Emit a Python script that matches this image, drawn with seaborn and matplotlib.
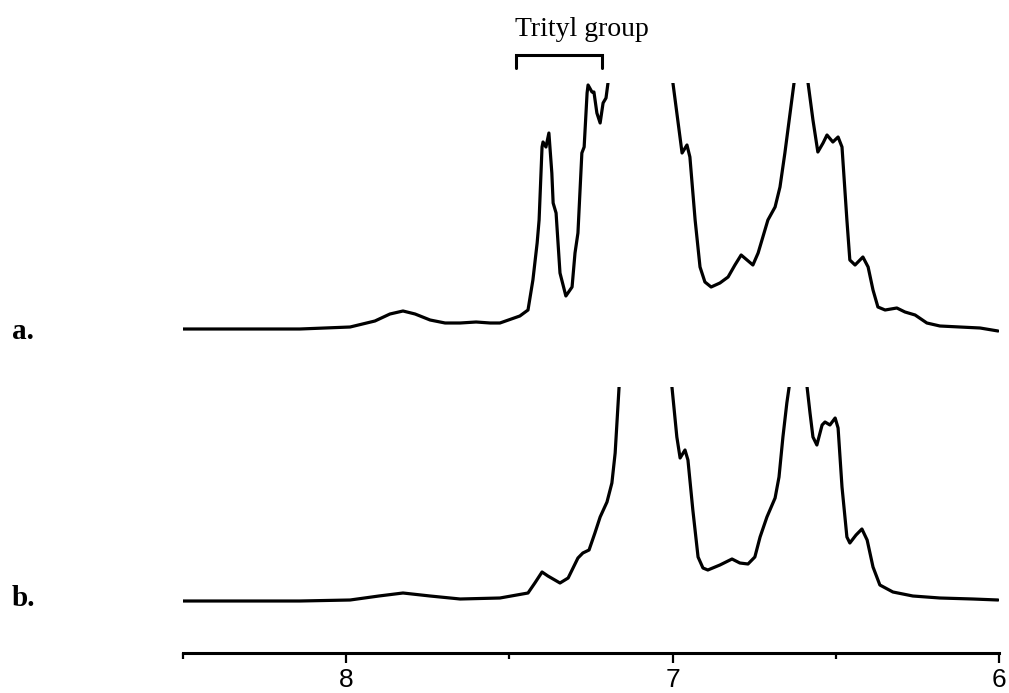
import matplotlib
matplotlib.use("Agg")
import matplotlib.pyplot as plt
import matplotlib.transforms as mtransforms
from matplotlib.ticker import FixedLocator
import seaborn as sns
import pandas as pd

# Chemical shift (ppm) and intensity of spectrum a
shift_a = [8.500, 8.142, 7.988, 7.912, 7.866, 7.826, 7.789, 7.743, 7.697, 7.651,
           7.602, 7.559, 7.529, 7.468, 7.443, 7.428, 7.415, 7.409, 7.400, 7.397,
           7.388, 7.379, 7.370, 7.366, 7.357, 7.345, 7.327, 7.308, 7.299, 7.290,
           7.278, 7.271, 7.262, 7.259, 7.247, 7.241, 7.232, 7.222, 7.213, 7.204,
           7.198, 7.190, 7.100, 7.010, 6.999, 6.971, 6.956, 6.947, 6.931, 6.916,
           6.901, 6.882, 6.855, 6.830, 6.809, 6.790, 6.772, 6.754, 6.738, 6.708,
           6.686, 6.671, 6.656, 6.640, 6.628, 6.620, 6.605, 6.592, 6.585, 6.570,
           6.555, 6.539, 6.527, 6.509, 6.493, 6.481, 6.466, 6.457, 6.441, 6.417,
           6.401, 6.386, 6.371, 6.349, 6.313, 6.288, 6.257, 6.221, 6.181, 6.120,
           6.058, 6.003]
inten_a = [0, 0, 2, 8, 15, 18, 15, 9, 6, 6,
           7, 6, 6, 13, 19, 49, 86, 109, 182, 187,
           182, 196, 156, 126, 116, 56, 33, 42, 76, 96,
           176, 182, 236, 244, 237, 237, 216, 206, 226, 231,
           246, 290, 500, 280, 246, 176, 184, 172, 109, 62,
           47, 42, 46, 52, 64, 74, 69, 64, 76, 109,
           122, 142, 176, 216, 246, 280, 450, 280, 246, 209,
           177, 186, 194, 187, 192, 182, 109, 69, 64, 72,
           62, 39, 22, 19, 21, 17, 14, 6, 3, 2,
           1, -2]

# Chemical shift (ppm) and intensity of spectrum b
shift_b = [8.500, 8.142, 7.988, 7.900, 7.826, 7.743, 7.651, 7.529, 7.443, 7.422,
           7.400, 7.382, 7.345, 7.320, 7.290, 7.275, 7.256, 7.238, 7.222, 7.201,
           7.186, 7.176, 7.170, 7.164, 7.155, 7.090, 7.010, 7.002, 6.987, 6.977,
           6.962, 6.953, 6.938, 6.922, 6.907, 6.892, 6.855, 6.818, 6.794, 6.769,
           6.748, 6.732, 6.711, 6.686, 6.674, 6.662, 6.650, 6.643, 6.635, 6.610,
           6.592, 6.588, 6.579, 6.570, 6.558, 6.542, 6.533, 6.518, 6.502, 6.493,
           6.481, 6.466, 6.457, 6.438, 6.420, 6.404, 6.386, 6.365, 6.325, 6.264,
           6.181, 6.080, 6.003]
inten_b = [0, 0, 1, 5, 8, 5, 2, 3, 8, 18,
           29, 25, 18, 23, 43, 48, 51, 68, 84, 99,
           118, 148, 181, 214, 260, 500, 260, 214, 164, 143,
           151, 141, 91, 44, 33, 31, 36, 42, 38, 37,
           44, 64, 84, 103, 124, 164, 198, 214, 250, 420,
           250, 214, 188, 164, 156, 176, 179, 176, 183, 173,
           114, 64, 58, 66, 72, 61, 34, 16, 9, 5,
           3, 2, 1]

spectrum_labels = ["a.", "b."]
shift_ticks = [8, 7, 6]
shift_minor = [8.5, 7.5, 6.5]
trityl_range = (7.48, 7.216)
trityl_label = "Trityl group"

sns.set_theme(style="white")
plt.rcParams["font.family"] = ["Liberation Sans", "DejaVu Sans"]
plt.rcParams["text.color"] = "black"
plt.rcParams["xtick.color"] = "black"
plt.rcParams["xtick.labelcolor"] = "black"

fig = plt.figure(figsize=(10.09, 6.93), dpi=100)
left, width = 183 / 1009, 816 / 1009
ax_a = fig.add_axes([left, 1 - 340 / 693, width, 257 / 693])
ax_b = fig.add_axes([left, 1 - 653 / 693, width, 266 / 693])

df_a = pd.DataFrame({"shift": shift_a, "intensity": inten_a})
df_b = pd.DataFrame({"shift": shift_b, "intensity": inten_b})

line_kw = dict(x="shift", y="intensity", color="black", linewidth=2.3,
               sort=False, estimator=None, solid_joinstyle="round",
               solid_capstyle="round")
sns.lineplot(data=df_a, ax=ax_a, **line_kw)
sns.lineplot(data=df_b, ax=ax_b, **line_kw)

ax_a.set_ylim(-11, 246)
ax_b.set_ylim(-52, 214)

for ax in (ax_a, ax_b):
    ax.set_xlim(8.5, 6.0)
    ax.set_xlabel("")
    ax.set_ylabel("")
    ax.set_yticks([])
    for side in ("top", "right", "left", "bottom"):
        ax.spines[side].set_visible(False)
    ax.set_facecolor("none")

ax_a.set_xticks([])

ax_b.spines["bottom"].set_visible(True)
ax_b.spines["bottom"].set_linewidth(2.2)
ax_b.spines["bottom"].set_color("black")
ax_b.xaxis.set_major_locator(FixedLocator(shift_ticks))
ax_b.xaxis.set_minor_locator(FixedLocator(shift_minor))
ax_b.set_xticklabels([str(t) for t in shift_ticks])
ax_b.tick_params(axis="x", which="major", bottom=True, length=7, width=1.6,
                 color="black", labelsize=19, pad=4, labelcolor="black")
ax_b.tick_params(axis="x", which="minor", bottom=True, length=4, width=1.6,
                 color="black")

# Spectrum labels on the left
serif = ["Liberation Serif", "DejaVu Serif"]
fig.text(12 / 1009, 1 - 339 / 693, spectrum_labels[0], family=serif,
         fontsize=21, fontweight="bold", ha="left", va="baseline",
         color="black")
fig.text(12 / 1009, 1 - 606 / 693, spectrum_labels[1], family=serif,
         fontsize=21, fontweight="bold", ha="left", va="baseline",
         color="black")

# Bracket marking the trityl signals
trans = mtransforms.blended_transform_factory(ax_a.transData, fig.transFigure)
y_top, y_leg = 1 - 55 / 693, 1 - 68 / 693
ax_a.plot([trityl_range[0], trityl_range[0], trityl_range[1], trityl_range[1]],
          [y_leg, y_top, y_top, y_leg], color="black", linewidth=2.2,
          transform=trans, clip_on=False, solid_joinstyle="miter")
fig.text(515 / 1009, 1 - 36 / 693, trityl_label, family=serif, fontsize=20,
         ha="left", va="baseline", color="black")

fig.savefig("out.png", dpi=100)
